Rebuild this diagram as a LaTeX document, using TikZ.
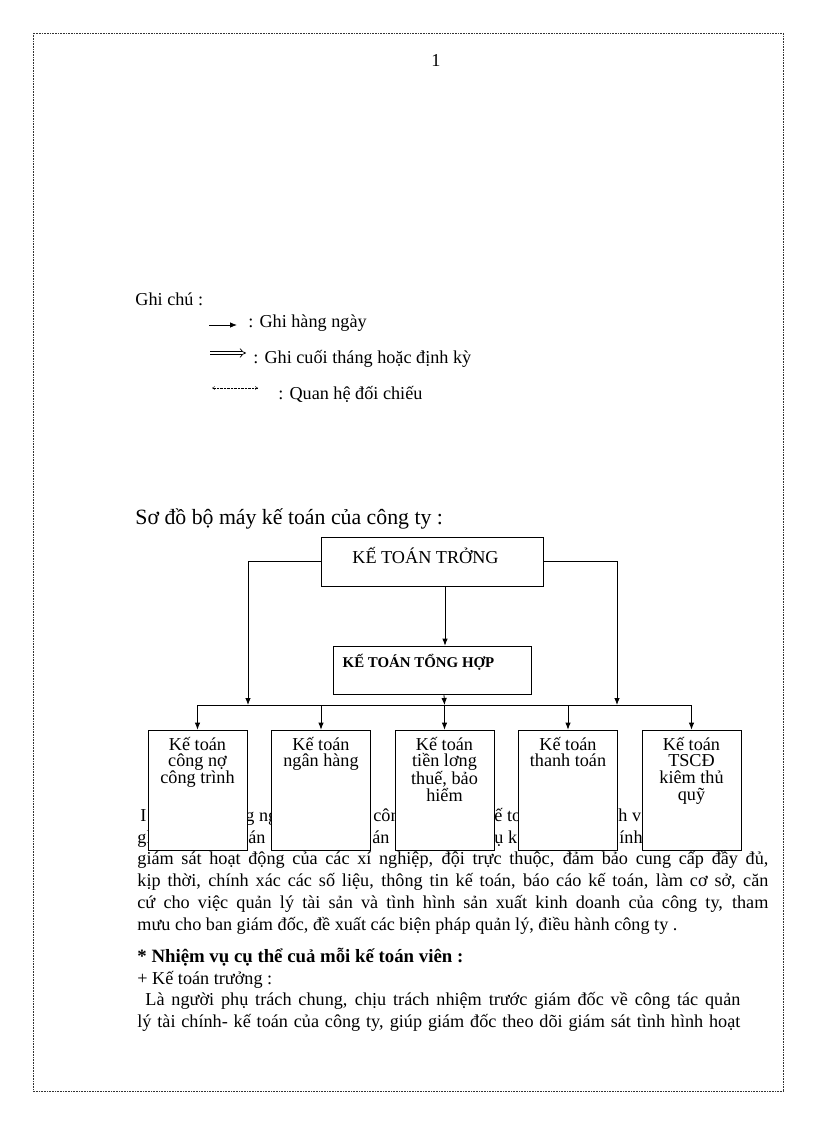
\documentclass[tikz,border=0pt]{standalone}
\usepackage{fontspec}
\setmainfont{Liberation Serif}
\usetikzlibrary{arrows.meta}

\begin{document}
\begin{tikzpicture}[x=1pt,y=-1pt,
  every node/.style={font=\fontsize{18.2}{16.7}\selectfont,inner sep=0pt},
  >={Latex[length=7pt,width=5.5pt]},
  line width=0.8pt,
  boxk/.style={draw,fill=white,minimum width=99pt,minimum height=120pt},
  boxtxt/.style={anchor=north,align=center},
  bodyline/.style={anchor=base west}]
\useasboundingbox (0,0) rectangle (816,1123);
\draw[densely dotted,line width=0.6pt,black!80] (33,33) rectangle (783,1091);
\node (pageno) at (436,60) {1};

% legend
\node[bodyline] (ghichu) at (135,305) {Ghi chú :};
\node[bodyline] (leg1) at (248,327) {: Ghi hàng ngày};
\node[bodyline] (leg2) at (253,363) {: Ghi cuối tháng hoặc định kỳ};
\node[bodyline] (leg3) at (278,399) {: Quan hệ đối chiếu};
\coordinate (l1a) at (209,325); \coordinate (l1b) at (237,325);
\coordinate (l2a) at (210,353); \coordinate (l2b) at (246,353);
\coordinate (l3a) at (212,388); \coordinate (l3b) at (258,388);
\draw[->] (l1a) -- (l1b);
\draw[double,double distance=2.5pt,line width=0.7pt,-{Implies}] (l2a) -- (l2b);
\draw[densely dotted,line width=0.4pt,{Straight Barb[length=2.5pt,width=3pt]}-{Straight Barb[length=2.5pt,width=3pt]}] (l3a) -- (l3b);

% title
\node[bodyline,font=\fontsize{21.8}{21.8}\selectfont] (title) at (135,524) {Sơ đồ bộ máy kế toán của công ty :};

% text partly hidden behind the boxes
\node[bodyline] (f11) at (140,821) {I};
\node[bodyline] (f12) at (245,821) {g ng};
\node[bodyline] (f13) at (373,821) {côn};
\node[bodyline] (f14) at (494,821) {ế to};
\node[bodyline] (f15) at (618,821) {h v};
\node[bodyline] (f21) at (137,843) {gl};
\node[bodyline] (f22) at (248,843) {án};
\node[bodyline] (f23) at (372,843) {án};
\node[bodyline] (f24) at (494,843) {ụ k};
\node[bodyline] (f25) at (619,843) {ính,};

% boxes
\node[draw,minimum width=222pt,minimum height=49pt] (kttruong) at (432,561.5) {};
\node[anchor=base] (kttruongtxt) at (425.5,563) {KẾ TOÁN TRỞNG};
\node[draw,minimum width=198pt,minimum height=48pt] (ktth) at (432,670) {};
\node[anchor=base,font=\bfseries\fontsize{14.9}{14.9}\selectfont] (ktthtxt) at (418.5,667) {KẾ TOÁN TỔNG HỢP};

\node[boxk] (kt1) at (197.5,790) {};
\node[boxk] (kt2) at (321,790) {};
\node[boxk] (kt3) at (444.5,790) {};
\node[boxk] (kt4) at (568,790) {};
\node[boxk] (kt5) at (691.5,790) {};
\node[boxtxt] (kt1txt) at ([yshift=-7pt]kt1.north) {Kế toán\\công nợ\\công trình};
\node[boxtxt] (kt2txt) at ([yshift=-7pt]kt2.north) {Kế toán\\ngân hàng};
\node[boxtxt] (kt3txt) at ([yshift=-7pt]kt3.north) {Kế toán\\tiền lơng\\thuế, bảo\\hiểm};
\node[boxtxt] (kt4txt) at ([yshift=-7pt]kt4.north) {Kế toán\\thanh toán};
\node[boxtxt] (kt5txt) at ([yshift=-7pt]kt5.north) {Kế toán\\TSCĐ\\kiêm thủ\\quỹ};

% connectors
\coordinate (busL) at (248,705);
\coordinate (busR) at (617,705);
\draw[->] (kttruong.west) -| (busL);
\draw[->] (kttruong.east) -| (busR);
\draw[->] ([xshift=13pt]kttruong.south) -- ([xshift=13pt]ktth.north);
\draw[->] ([xshift=12pt]ktth.south) -- (kt3.north |- busL);
\draw (kt1.north |- busL) -- (kt5.north |- busL);
\draw[->] (kt1.north |- busL) -- (kt1.north);
\draw[->] (kt2.north |- busL) -- (kt2.north);
\draw[->] (kt3.north |- busL) -- (kt3.north);
\draw[->] (kt4.north |- busL) -- (kt4.north);
\draw[->] (kt5.north |- busL) -- (kt5.north);

% text below
\node[bodyline] (p1) at (137,864) {\makebox[631pt][s]{giám sát hoạt động của các xí nghiệp, đội trực thuộc, đảm bảo cung cấp đầy đủ,}};
\node[bodyline] (p2) at (137,886) {\makebox[631pt][s]{kịp thời, chính xác các số liệu, thông tin kế toán, báo cáo kế toán, làm cơ sở, căn}};
\node[bodyline] (p3) at (137,908) {\makebox[631pt][s]{cứ cho việc quản lý tài sản và tình hình sản xuất kinh doanh của công ty, tham}};
\node[bodyline] (p4) at (137,930) {mưu cho ban giám đốc, đề xuất các biện pháp quản lý, điều hành công ty .};
\node[bodyline,font=\bfseries\fontsize{18.8}{18.8}\selectfont] (nv) at (137,962) {* Nhiệm vụ cụ thể cuả mỗi kế toán viên :};
\node[bodyline] (ktt) at (137,984) {+ Kế toán trưởng :};
\node[bodyline] (q1) at (145,1005) {\makebox[595pt][s]{Là người phụ trách chung, chịu trách nhiệm trước giám đốc về công tác quản}};
\node[bodyline] (q2) at (137,1027) {\makebox[603pt][s]{lý tài chính- kế toán của công ty, giúp giám đốc theo dõi giám sát tình hình hoạt}};
\end{tikzpicture}
\end{document}
